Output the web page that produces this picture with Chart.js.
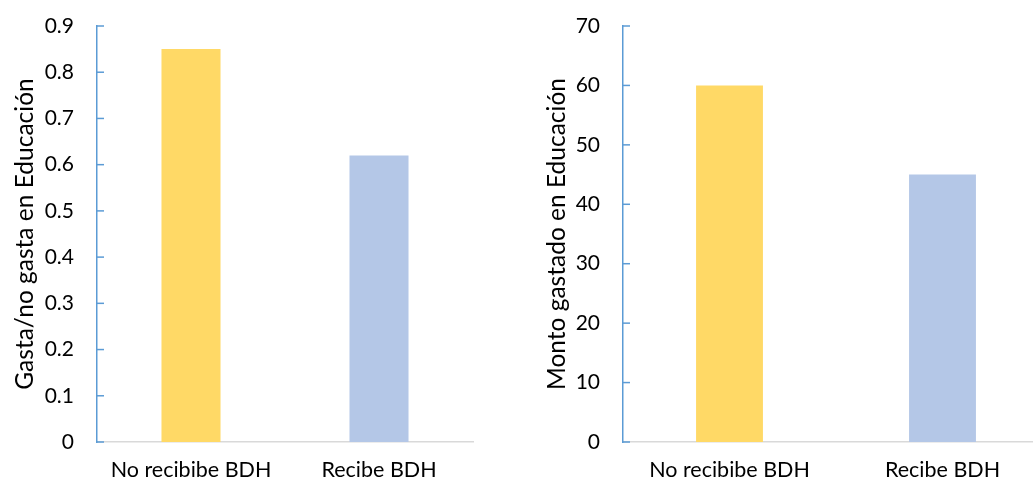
<!DOCTYPE html>
<html>
<head>
<meta charset="utf-8">
<script src="https://cdn.jsdelivr.net/npm/chart.js@4"></script>
<style>
    html, body { margin: 0; padding: 0; background: #fff; }
    body { width: 1033px; height: 484px; overflow: hidden; position: relative; }
    .panel { position: absolute; top: 0; height: 484px; }
    #leftPanel { left: 0; width: 490px; }
    #rightPanel { left: 530px; width: 530px; }
</style>
</head>
<body>
<div class="panel" id="leftPanel"><canvas id="gastaChart"></canvas></div>
<div class="panel" id="rightPanel"><canvas id="montoChart"></canvas></div>
<script>
// Data
const categories = ['No recibibe BDH', 'Recibe BDH'];
const gastaShare = [0.85, 0.62];
const montoGastado = [60, 45];
const barColors = ['#FFD966', '#B4C7E7'];

const gastaTicks = { max: 0.9, step: 0.1 };
const montoTicks = { max: 70, step: 10 };

const axisBlue = '#5B9BD5';
const axisGray = '#D9D9D9';
const fontFamily = 'Lato, "Open Sans", sans-serif';

// Excel style tick marks that point into the plot
const inwardTicks = {
    id: 'inwardTicks',
    afterDraw(chart) {
        const yScale = chart.scales.y;
        const ctx = chart.ctx;
        const left = chart.chartArea.left;
        ctx.save();
        ctx.strokeStyle = axisBlue;
        ctx.lineWidth = 1.5;
        yScale.ticks.forEach(t => {
            const py = yScale.getPixelForValue(t.value);
            ctx.beginPath();
            ctx.moveTo(left, py);
            ctx.lineTo(left + 7, py);
            ctx.stroke();
        });
        ctx.restore();
    }
};

function makeChart(canvasId, values, ticks, title, yWidth, titlePad, rightPad) {
    const ctx = document.getElementById(canvasId).getContext('2d');
    return new Chart(ctx, {
        type: 'bar',
        data: {
            labels: categories,
            datasets: [{
                data: values,
                backgroundColor: barColors,
                borderWidth: 0,
                barPercentage: 0.314,
                categoryPercentage: 1
            }]
        },
        options: {
            responsive: true,
            maintainAspectRatio: false,
            animation: false,
            layout: { padding: { top: 26, right: rightPad, left: 0, bottom: 0 } },
            plugins: {
                legend: { display: false },
                tooltip: { enabled: false }
            },
            scales: {
                x: {
                    grid: { display: false, drawTicks: false },
                    border: { color: axisGray, width: 1.5 },
                    ticks: {
                        color: '#000',
                        padding: 15,
                        font: { family: fontFamily, size: 21.5 }
                    },
                    afterFit: s => {
                        s.height = 42;
                        s.paddingLeft = 0;
                        s.paddingRight = 0;
                    }
                },
                y: {
                    min: 0,
                    max: ticks.max,
                    grid: { display: false, drawTicks: false },
                    border: { color: axisBlue, width: 1.5 },
                    ticks: {
                        stepSize: ticks.step,
                        color: '#000',
                        padding: 23,
                        font: { family: fontFamily, size: 21 }
                    },
                    title: {
                        display: true,
                        text: title,
                        color: '#000',
                        padding: { top: titlePad, bottom: 0 },
                        font: { family: fontFamily, size: 24.5 }
                    },
                    afterFit: s => {
                        s.width = yWidth;
                        s.paddingTop = 0;
                        s.paddingBottom = 0;
                    }
                }
            }
        },
        plugins: [inwardTicks]
    });
}

makeChart('gastaChart', gastaShare, gastaTicks, 'Gasta/no gasta en Educación', 97, 10, 17);
makeChart('montoChart', montoGastado, montoTicks, 'Monto gastado en Educación', 93, 12, 11);
</script>
</body>
</html>
